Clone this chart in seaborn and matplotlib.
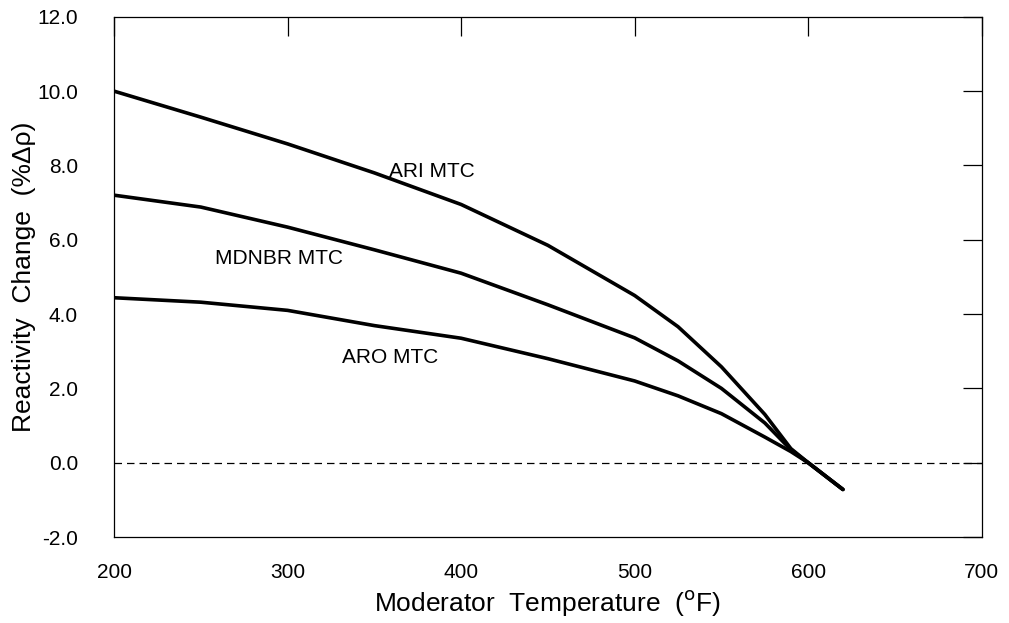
import matplotlib
matplotlib.use("Agg")
import matplotlib.pyplot as plt
import seaborn as sns
import pandas as pd
from matplotlib.ticker import FormatStrFormatter, MultipleLocator

temperature = [200, 250, 300, 350, 400, 450, 500, 525, 550, 575, 590, 600, 620]
ari_mtc = [10.0, 9.3, 8.58, 7.8, 6.95, 5.85, 4.5, 3.66, 2.58, 1.3, 0.38, 0.0, -0.72]
mdnbr_mtc = [7.2, 6.88, 6.34, 5.73, 5.1, 4.25, 3.36, 2.74, 2.0, 1.07, 0.35, 0.0, -0.72]
aro_mtc = [4.44, 4.32, 4.10, 3.69, 3.35, 2.8, 2.2, 1.8, 1.32, 0.69, 0.3, 0.0, -0.72]
series_names = ["ARI MTC", "MDNBR MTC", "ARO MTC"]
label_pos = {"ARI MTC": (383, 7.85), "MDNBR MTC": (295, 5.5), "ARO MTC": (359, 2.83)}

rows = []
for name, vals in zip(series_names, [ari_mtc, mdnbr_mtc, aro_mtc]):
    for t, v in zip(temperature, vals):
        rows.append({"T": t, "R": v, "series": name})
df = pd.DataFrame(rows)

sns.set_theme(style="white")
plt.rcParams['font.family'] = ['Liberation Sans', 'DejaVu Sans']

fig = plt.figure(figsize=(10.09, 6.23), dpi=100)
ax = fig.add_axes([0.113, 0.138, 0.860, 0.835])

sns.lineplot(data=df, x="T", y="R", units="series", estimator=None,
             color="black", linewidth=2.6, ax=ax, legend=False)

ax.axhline(0, color="black", linestyle=(0, (6, 4)), linewidth=0.9)

for name, (x, y) in label_pos.items():
    ax.text(x, y, name, fontsize=15, ha="center", va="center", color="black")

ax.set_xlim(200, 700)
ax.set_ylim(-2, 12)
ax.xaxis.set_major_locator(MultipleLocator(100))
ax.yaxis.set_major_locator(MultipleLocator(2))
ax.yaxis.set_major_formatter(FormatStrFormatter("%.1f"))
ax.tick_params(direction="in", length=14, width=0.9, top=True, right=True,
               labelsize=15, colors="black")
ax.tick_params(axis="x", pad=19)
ax.tick_params(axis="y", pad=26)
for s in ax.spines.values():
    s.set_visible(True)
    s.set_color("black")
    s.set_linewidth(0.9)

ax.set_xlabel("Moderator  Temperature  ($^{\\rm o}$F)", fontsize=19, labelpad=4, color="black")
ax.set_ylabel("Reactivity  Change  (%Δρ)", fontsize=19, labelpad=1, color="black")

fig.savefig("out.png", dpi=100, facecolor="white")
